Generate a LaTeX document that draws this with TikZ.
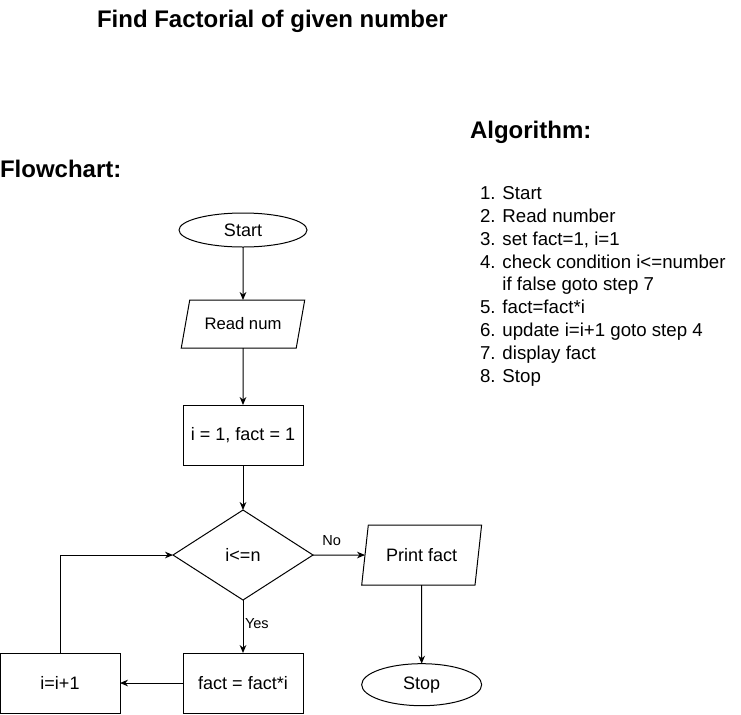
\documentclass[tikz,border=0pt]{standalone}
\usepackage{fontspec}
\setmainfont{Liberation Sans}
\usepackage{tikz}
\usetikzlibrary{positioning, arrows.meta, shapes.geometric}

\begin{document}
\begin{tikzpicture}[
  x=0.75pt, y=-0.75pt,
  font=\fontsize{13.5}{16}\selectfont,
  every node/.style={outer sep=0pt},
  heading/.style={font=\fontsize{18}{21}\selectfont\bfseries, inner sep=0pt},
  terminal/.style={draw, ellipse, inner sep=0pt, minimum width=96pt, minimum height=25.5pt},
  io/.style={draw, trapezium, trapezium stretches=true, inner sep=0pt},
  process/.style={draw, rectangle, inner sep=0pt, minimum width=90pt, minimum height=45pt},
  decision/.style={draw, diamond, inner sep=0pt, minimum width=105pt, minimum height=67.5pt},
  lbl/.style={font=\fontsize{10.9}{13}\selectfont},
  arr/.style={-{Stealth[length=6pt, width=5pt]}, line width=0.75pt},
  line width=0.75pt
]
\useasboundingbox (0,0) rectangle (741,714);
% headings
\node[heading, anchor=base west] (title) at (97,27) {Find Factorial of given number};
\node[heading, anchor=base west] (algo) at (470,138) {Algorithm:};
\node[heading, anchor=base west] (chart) at (0,177) {Flowchart:};
% algorithm steps
\node[anchor=north west, inner sep=0pt, align=left, font=\fontsize{14}{17.16}\selectfont] (steps) at (480,186.4) {%
  1. Start\\
  2. Read number\\
  3. set fact=1, i=1\\
  4. check condition i<=number\\
  \phantom{4. }if false goto step 7\\
  5. fact=fact*i\\
  6. update i=i+1 goto step 4\\
  7. display fact\\
  8. Stop};
% flowchart
\node[terminal] (start) at (243,230) {Start};
\node[io, below=39.75pt of start, minimum width=93pt, minimum height=36pt,
  trapezium left angle=63.4, trapezium right angle=116.6,
  font=\fontsize{12.5}{15}\selectfont] (read) {Read num};
\node[process, below=42.75pt of read] (init) {i = 1, fact = 1};
\node[decision, below=33.75pt of init] (cond) {i<=n};
\node[io, right=39pt of cond, minimum width=90pt, minimum height=45pt,
  trapezium left angle=71.6, trapezium right angle=108.4] (print) {Print fact};
\node[process, below=39.75pt of cond] (fact) {fact = fact*i};
\node[terminal, below=59pt of print, minimum width=90pt, minimum height=31.5pt] (stop) {Stop};
\node[process, left=47.25pt of fact] (incr) {i=i+1};
\draw[arr] (start) -- (read);
\draw[arr] (read) -- (init);
\draw[arr] (init) -- (cond);
\draw[arr] (cond) -- node[lbl, pos=0.36, above=3.6pt] {No} (print);
\draw[arr] (cond) -- node[lbl, pos=0.45, right, inner sep=1.5pt] {Yes} (fact);
\draw[arr] (print) -- (stop);
\draw[arr] (fact) -- (incr);
\draw[arr] (incr) |- (cond);
\end{tikzpicture}
\end{document}
